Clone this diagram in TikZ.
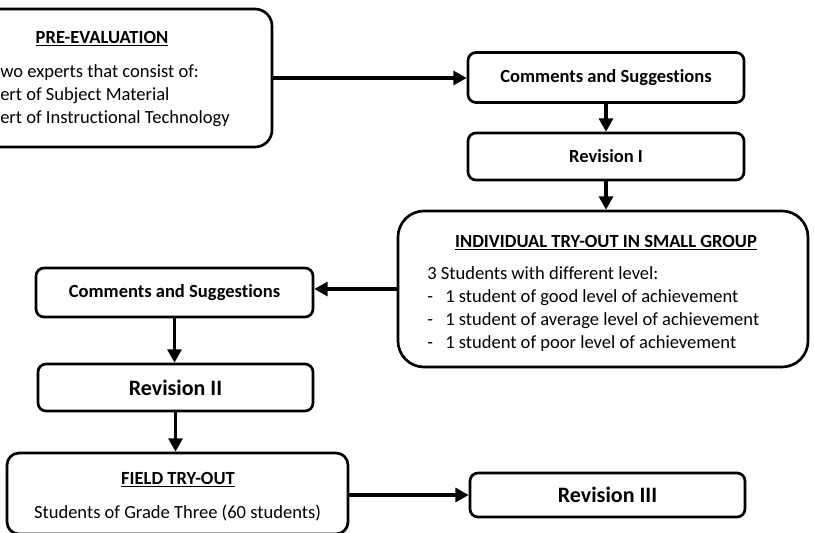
\documentclass[tikz,border=0pt]{standalone}
\usepackage{fontspec}
\setmainfont{Carlito}[Ligatures=NoCommon]
\usetikzlibrary{arrows.meta}
\newcommand\ulbox[1]{\setbox0\hbox{#1}\leavevmode\rlap{\rule[-2.4pt]{\wd0}{1.1pt}}\box0}
\tikzset{
    box/.style={draw, line width=2pt, rounded corners=6pt, inner sep=0pt,
        font=\bfseries\fontsize{13.9}{17}\selectfont},
    big/.style={font=\bfseries\fontsize{16.5}{20}\selectfont},
    txt/.style={anchor=base west, inner sep=0pt, font=\fontsize{13.9}{17}\selectfont},
    link/.style={line width=2.3pt, -{Triangle[length=10pt,width=10.5pt]}},
}
\begin{document}
\begin{tikzpicture}[x=0.75pt, y=-0.75pt]
    \useasboundingbox (0,0) rectangle (814,532);

    \node[box, rounded corners=12.75pt, minimum width=256.5pt, minimum height=103.5pt] (pre) at (101,78) {};
    \node[txt, anchor=base] (pre-t) at (102,43) {\bfseries\ulbox{PRE-EVALUATION}};
    \foreach \y/\t [count=\i] in {77/wo experts that consist of:, 100/ert of Subject Material, 123/ert of Instructional Technology}
        {\node[txt] (pre-\i) at (0,\y) {\t};}

    \node[box, minimum width=207pt, minimum height=37.5pt] (com1) at (606,77.5) {Comments and Suggestions};
    \node[box, minimum width=207pt, minimum height=35.25pt] (rev1) at (606,156.5) {Revision I};

    \node[box, rounded corners=19.5pt, minimum width=307.5pt, minimum height=117pt] (indiv) at (603,289) {};
    \node[txt, anchor=base] (indiv-t) at (606,247) {\bfseries\ulbox{INDIVIDUAL TRY-OUT IN SMALL GROUP}};
    \node[txt] (indiv-0) at (427,279) {3 Students with different level:};
    \foreach \y/\t in {302/good, 325/average, 348/poor}
        {\node[txt] (dash-\t) at (427,\y) {-};
         \node[txt] (lvl-\t) at (445,\y) {1 student of \t\ level of achievement};}

    \node[box, minimum width=207.75pt, minimum height=36.75pt] (com2) at (174.5,292.5) {Comments and Suggestions};
    \node[box, big, minimum width=206.25pt, minimum height=35.25pt] (rev2) at (175.5,387.5) {Revision II};

    \node[box, rounded corners=9pt, minimum width=255.75pt, minimum height=60.75pt] (field) at (177.5,493.5) {};
    \node[txt, anchor=base] (field-t) at (178,484) {\bfseries\ulbox{FIELD TRY-OUT}};
    \node[txt, anchor=base] (field-1) at (177.5,518) {Students of Grade Three (60 students)};
    \node[box, big, minimum width=206.25pt, minimum height=33pt] (rev3) at (607.5,495) {Revision III};

    \draw[link] (pre.east) -- (pre.east -| com1.west);
    \draw[link] (com1.south) -- (com1.south |- rev1.north);
    \draw[link] (rev1.south) -- (rev1.south |- indiv.north);
    \draw[link] (indiv.west) -- (indiv.west -| com2.east);
    \draw[link] (com2.south) -- (com2.south |- rev2.north);
    \draw[link] (rev2.south) -- (rev2.south |- field.north);
    \draw[link] (rev3.west -| field.east) -- (rev3.west);
\end{tikzpicture}
\end{document}
